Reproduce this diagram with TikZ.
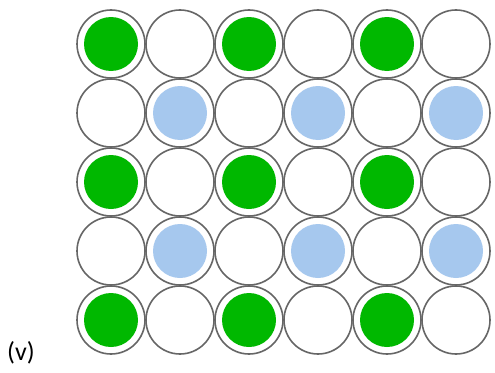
\documentclass[tikz,border=0pt]{standalone}
\usepackage{fontspec}
\setmainfont{Carlito}
\definecolor{ring}{HTML}{666666}
\definecolor{dotgreen}{HTML}{00B800}
\definecolor{dotblue}{HTML}{A6C8EE}
\tikzset{
  cell/.style={circle, draw=ring, line width=1.6pt, minimum size=68pt, inner sep=0pt, fill=white},
  gdot/.style={circle, fill=dotgreen, minimum size=54pt, inner sep=0pt},
  bdot/.style={circle, fill=dotblue, minimum size=54pt, inner sep=0pt},
  lbl/.style={font=\fontsize{26pt}{30pt}\selectfont, inner sep=0pt, anchor=base west}
}
\begin{document}
\begin{tikzpicture}[x=1pt,y=-1pt]
\useasboundingbox (0,0) rectangle (495,372);
\foreach \r in {1,...,5}{
  \foreach \c in {1,...,6}{
    \pgfmathsetmacro{\cx}{111+69*(\c-1)}
    \pgfmathsetmacro{\cy}{44+69*(\r-1)}
    \node[cell] (c\r\c) at (\cx,\cy) {};
  }
}
\foreach \r in {1,3,5}{
  \foreach \c in {1,3,5}{
    \node[gdot] (g\r\c) at (c\r\c) {};
  }
}
\foreach \r in {2,4}{
  \foreach \c in {2,4,6}{
    \node[bdot] (b\r\c) at (c\r\c) {};
  }
}
\node[lbl] (label) at (7,360) {(v)};
\end{tikzpicture}
\end{document}
